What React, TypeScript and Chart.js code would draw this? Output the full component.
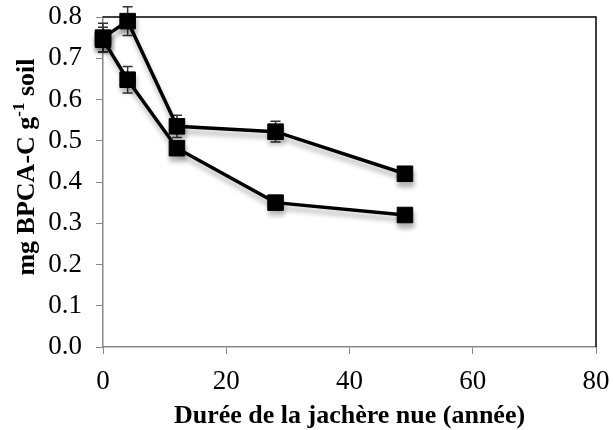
import React, { useEffect, useRef } from "react";
import { Chart, registerables } from "chart.js";

Chart.register(...registerables);

const xValues = [0, 4, 12, 28, 49];
const seriesA = [0.75, 0.79, 0.535, 0.522, 0.42];
const seriesAErr = [0.035, 0.035, 0.027, 0.025, 0.01];
const seriesB = [0.745, 0.648, 0.482, 0.35, 0.32];
const seriesBErr = [0.03, 0.032, 0.012, 0.01, 0.008];
const xTicks = [0, 20, 40, 60, 80];
const yTicks = [0, 0.1, 0.2, 0.3, 0.4, 0.5, 0.6, 0.7, 0.8];
const xTitle = "Durée de la jachère nue (année)";
const yTitleParts = ["mg BPCA-C g", "-1", " soil"];

const SERIF = "'Liberation Serif', 'Times New Roman', serif";

export default function App() {
  const ref = useRef<HTMLCanvasElement | null>(null);

  useEffect(() => {
    document.body.style.margin = "0";
    const canvas = ref.current!;
    const errs = [seriesAErr, seriesBErr];

    const zeroPad = (s: any) => {
      s.paddingTop = 0;
      s.paddingBottom = 0;
      s.paddingLeft = 0;
      s.paddingRight = 0;
    };

    const errorBars = {
      id: "errorBars",
      beforeDatasetsDraw(chart: any) {
        const ctx = chart.ctx;
        const xs = chart.scales.x;
        const ys = chart.scales.y;
        ctx.save();
        ctx.strokeStyle = "#333";
        ctx.lineWidth = 1.5;
        chart.data.datasets.forEach((ds: any, i: number) => {
          ds.data.forEach((p: any, j: number) => {
            const e = errs[i][j];
            const x = xs.getPixelForValue(p.x);
            const y1 = ys.getPixelForValue(p.y + e);
            const y2 = ys.getPixelForValue(p.y - e);
            ctx.beginPath();
            ctx.moveTo(x, y1);
            ctx.lineTo(x, y2);
            ctx.moveTo(x - 5, y1);
            ctx.lineTo(x + 5, y1);
            ctx.moveTo(x - 5, y2);
            ctx.lineTo(x + 5, y2);
            ctx.stroke();
          });
        });
        ctx.restore();
        ctx.save();
        ctx.shadowColor = "rgba(0,0,0,0.3)";
        ctx.shadowBlur = 5;
        ctx.shadowOffsetX = 1;
        ctx.shadowOffsetY = 5;
      },
      afterDatasetsDraw(chart: any) {
        chart.ctx.restore();
      },
      afterDraw(chart: any) {
        const ctx = chart.ctx;
        const a = chart.chartArea;
        ctx.save();
        ctx.strokeStyle = "#000";
        ctx.lineWidth = 1.5;
        ctx.beginPath();
        ctx.moveTo(a.left, a.top);
        ctx.lineTo(a.right, a.top);
        ctx.lineTo(a.right, a.bottom);
        ctx.stroke();

        ctx.fillStyle = "#000";
        ctx.textBaseline = "alphabetic";
        const big = `bold 26px ${SERIF}`;
        const small = `bold 17px ${SERIF}`;

        // x title
        ctx.font = big;
        ctx.textAlign = "center";
        ctx.fillText(xTitle, (a.left + a.right) / 2, 423);

        // y title with superscript
        ctx.font = big;
        const w1 = ctx.measureText(yTitleParts[0]).width;
        const w3 = ctx.measureText(yTitleParts[2]).width;
        ctx.font = small;
        const w2 = ctx.measureText(yTitleParts[1]).width;
        const total = w1 + w2 + w3;
        ctx.translate(34, 167);
        ctx.rotate(-Math.PI / 2);
        let x = -total / 2;
        ctx.textAlign = "left";
        ctx.font = big;
        ctx.fillText(yTitleParts[0], x, 0);
        x += w1;
        ctx.font = small;
        ctx.fillText(yTitleParts[1], x, -10);
        x += w2;
        ctx.font = big;
        ctx.fillText(yTitleParts[2], x, 0);
        ctx.restore();
      },
    };

    const mk = (vals: number[]) => ({
      data: xValues.map((x, i) => ({ x, y: vals[i] })),
      borderColor: "#000",
      backgroundColor: "#000",
      borderWidth: 3.5,
      pointStyle: "rect",
      pointRadius: 11,
      pointBorderWidth: 1,
      pointBackgroundColor: "#000",
      pointBorderColor: "#000",
      tension: 0,
      clip: false,
    });

    const chart = new Chart(canvas, {
      type: "line",
      data: { datasets: [mk(seriesA), mk(seriesB)] as any },
      options: {
        animation: false,
        responsive: false,
        layout: { padding: { top: 17, right: 17, left: 0, bottom: 0 } },
        plugins: { legend: { display: false }, tooltip: { enabled: false } },
        scales: {
          x: {
            type: "linear",
            min: 0,
            max: 80,
            afterBuildTicks: (s: any) => {
              s.ticks = xTicks.map((v) => ({ value: v }));
            },
            afterFit: (s: any) => {
              s.height = 83;
              zeroPad(s);
            },
            grid: {
              drawOnChartArea: false,
              drawTicks: true,
              tickLength: 7,
              color: "#888",
            },
            border: { color: "#888", width: 1.5 },
            ticks: {
              color: "#000",
              font: { family: SERIF, size: 27 },
              padding: 12,
              maxRotation: 0,
            },
          },
          y: {
            type: "linear",
            min: 0,
            max: 0.8,
            afterBuildTicks: (s: any) => {
              s.ticks = yTicks.map((v) => ({ value: v }));
            },
            afterFit: (s: any) => {
              s.width = 103;
              zeroPad(s);
            },
            grid: {
              drawOnChartArea: false,
              drawTicks: true,
              tickLength: 7,
              color: "#888",
            },
            border: { color: "#888", width: 1.5 },
            ticks: {
              color: "#000",
              font: { family: SERIF, size: 27 },
              padding: 14,
              callback: (v: any) => Number(v).toFixed(1),
            },
          },
        },
      },
      plugins: [errorBars],
    } as any);

    return () => chart.destroy();
  }, []);

  return (
    <div style={{ width: 613, height: 430 }}>
      <canvas ref={ref} width={613} height={430} style={{ display: "block" }} />
    </div>
  );
}
